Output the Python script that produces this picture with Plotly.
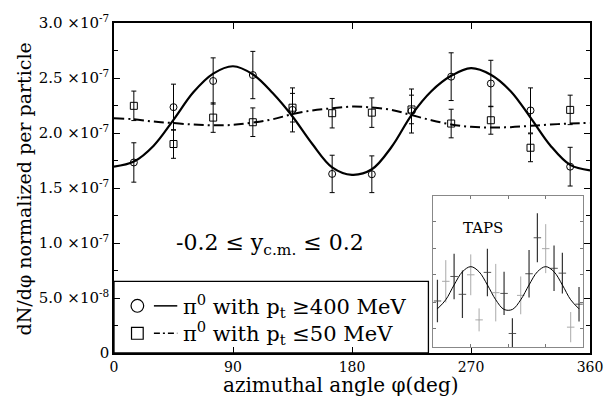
import plotly.graph_objects as go

# ---------------- data (units of 1e-7) ----------------
SCALE = 1e-7
phi_bins = [15, 45, 75, 105, 135, 165, 195, 225, 255, 285, 315, 345]
hi_pt = [1.732, 2.235, 2.473, 2.527, 2.21, 1.628, 1.625, 2.20, 2.512, 2.45, 2.205, 1.694]
hi_err = [0.179, 0.209, 0.21, 0.215, 0.2, 0.17, 0.167, 0.2, 0.217, 0.211, 0.205, 0.176]
lo_pt = [2.247, 1.90, 2.14, 2.098, 2.23, 2.18, 2.185, 2.214, 2.086, 2.116, 1.866, 2.21]
lo_err = [0.134, 0.13, 0.134, 0.13, 0.13, 0.134, 0.134, 0.13, 0.13, 0.127, 0.127, 0.134]

phi_fit = [0, 15, 30, 45, 60, 75, 90, 105, 120, 135, 150, 165, 180,
           195, 210, 225, 240, 255, 270, 285, 300, 315, 330, 345, 360]
fit_hi = [1.694, 1.74, 1.885, 2.12, 2.37, 2.54, 2.607, 2.533, 2.363, 2.15, 1.90, 1.688, 1.62,
          1.67, 1.875, 2.163, 2.38, 2.52, 2.59, 2.53, 2.38, 2.14, 1.887, 1.71, 1.66]
fit_lo = [2.134, 2.125, 2.104, 2.09, 2.077, 2.07, 2.074, 2.095, 2.125, 2.172, 2.205, 2.225, 2.24,
          2.232, 2.21, 2.163, 2.116, 2.078, 2.056, 2.05, 2.053, 2.065, 2.077, 2.086, 2.092]

y_tickvals = [0, 0.5, 1.0, 1.5, 2.0, 2.5, 3.0]
y_ticktext = ["0", "5.0 ×10<sup>-8</sup>", "1.0 ×10<sup>-7</sup>", "1.5 ×10<sup>-7</sup>",
              "2.0 ×10<sup>-7</sup>", "2.5 ×10<sup>-7</sup>", "3.0 ×10<sup>-7</sup>"]
x_tickvals = [0, 90, 180, 270, 360]

# inset (TAPS) data, arbitrary units
taps_phi_dark = [10, 50, 70, 130, 170, 190, 230, 250, 290, 310, 350]
taps_val_dark = [0.305, 0.467, 0.349, 0.494, 0.355, 0.09, 0.485, 0.723, 0.521, 0.489, 0.284]
taps_err_dark = [0.14, 0.15, 0.157, 0.157, 0.143, 0.10, 0.157, 0.162, 0.15, 0.135, 0.114]
taps_phi_light = [30, 90, 110, 150, 210, 270, 330]
taps_val_light = [0.435, 0.478, 0.18, 0.36, 0.342, 0.651, 0.132]
taps_err_light = [0.14, 0.135, 0.076, 0.19, 0.125, 0.162, 0.10]
taps_fit_phi = [10, 30, 50, 70, 90, 110, 130, 150, 170, 190, 210, 230, 250, 270, 290, 310, 330, 350]
taps_fit = [0.253, 0.313, 0.411, 0.498, 0.532, 0.498, 0.411, 0.313, 0.249,
            0.249, 0.313, 0.411, 0.498, 0.532, 0.498, 0.411, 0.313, 0.253]

# ---------------- layout geometry (pixels) ----------------
W, H = 615, 402
L, R, T, B = 114, 603, 17, 353
PW, PH = R - L, B - T


def px(x):
    return (x - L) / PW


def py(y):
    return (B - y) / PH


FONT = "DejaVu Serif"

fig = go.Figure()

fig.add_trace(go.Scatter(
    x=phi_fit, y=[v * SCALE for v in fit_hi], mode="lines",
    line=dict(color="black", width=2.2, shape="spline"), showlegend=False))
fig.add_trace(go.Scatter(
    x=phi_fit, y=[v * SCALE for v in fit_lo], mode="lines",
    line=dict(color="black", width=2, shape="spline", dash="10px,4px,2px,4px"),
    showlegend=False))
fig.add_trace(go.Scatter(
    x=phi_bins, y=[v * SCALE for v in hi_pt], mode="markers",
    marker=dict(symbol="circle-open", size=7, color="black", line=dict(width=1)),
    error_y=dict(type="data", array=[e * SCALE for e in hi_err], color="black",
                 thickness=1, width=2.5),
    showlegend=False))
fig.add_trace(go.Scatter(
    x=phi_bins, y=[v * SCALE for v in lo_pt], mode="markers",
    marker=dict(symbol="square-open", size=7, color="black", line=dict(width=1)),
    error_y=dict(type="data", array=[e * SCALE for e in lo_err], color="black",
                 thickness=1, width=2.5),
    showlegend=False))

# inset traces
fig.add_trace(go.Scatter(
    x=taps_phi_light, y=taps_val_light, mode="markers", xaxis="x2", yaxis="y2",
    marker=dict(size=1, color="#aaaaaa"),
    error_y=dict(type="data", array=taps_err_light, color="#aaaaaa", thickness=1, width=0),
    error_x=dict(type="constant", value=9, color="#aaaaaa", thickness=1, width=0),
    showlegend=False))
fig.add_trace(go.Scatter(
    x=taps_phi_dark, y=taps_val_dark, mode="markers", xaxis="x2", yaxis="y2",
    marker=dict(size=1, color="#333333"),
    error_y=dict(type="data", array=taps_err_dark, color="#333333", thickness=1.2, width=0),
    error_x=dict(type="constant", value=9, color="#555555", thickness=1, width=0),
    showlegend=False))
fig.add_trace(go.Scatter(
    x=taps_fit_phi, y=taps_fit, mode="lines", xaxis="x2", yaxis="y2",
    line=dict(color="black", width=1, shape="spline"), showlegend=False))

shapes = []
# legend box
shapes.append(dict(type="rect", xref="paper", yref="paper",
                   x0=px(114), x1=px(437), y0=py(353), y1=py(280),
                   line=dict(color="black", width=1.3), fillcolor="white", layer="below"))
# legend symbols
shapes.append(dict(type="circle", xref="paper", yref="paper",
                   x0=px(131.5), x1=px(144.5), y0=py(311.5), y1=py(298.5),
                   line=dict(color="black", width=1.2)))
shapes.append(dict(type="rect", xref="paper", yref="paper",
                   x0=px(132), x1=px(144), y0=py(339), y1=py(327),
                   line=dict(color="black", width=1.2)))
shapes.append(dict(type="line", xref="paper", yref="paper",
                   x0=px(155), x1=px(179), y0=py(305), y1=py(305),
                   line=dict(color="black", width=1.5)))
shapes.append(dict(type="line", xref="paper", yref="paper",
                   x0=px(155), x1=px(179), y0=py(333), y1=py(333),
                   line=dict(color="black", width=1.5, dash="6px,3px,2px,3px")))

annotations = [
    dict(text="π<sup>0</sup> with p<sub>t</sub> ≥400 MeV", xref="paper", yref="paper",
         x=px(183), y=py(305), xanchor="left", yanchor="middle", showarrow=False,
         font=dict(family=FONT, size=21, color="black")),
    dict(text="π<sup>0</sup> with p<sub>t</sub> ≤50 MeV", xref="paper", yref="paper",
         x=px(183), y=py(333), xanchor="left", yanchor="middle", showarrow=False,
         font=dict(family=FONT, size=21, color="black")),
    dict(text="-0.2 ≤ y<sub>c.m.</sub> ≤ 0.2", xref="paper", yref="paper",
         x=px(274), y=py(243), xanchor="center", yanchor="middle", showarrow=False,
         font=dict(family=FONT, size=22, color="black")),
    dict(text="TAPS", xref="paper", yref="paper",
         x=px(493), y=py(226), xanchor="center", yanchor="middle", showarrow=False,
         font=dict(family=FONT, size=15, color="black")),
    dict(text="dN/dφ normalized per particle", xref="paper", yref="paper",
         x=px(22), y=py(186), xanchor="center", yanchor="middle", showarrow=False,
         textangle=-90, font=dict(family=FONT, size=19, color="black")),
    dict(text="azimuthal angle φ(deg)", xref="paper", yref="paper",
         x=px(347), y=py(386), xanchor="center", yanchor="middle", showarrow=False,
         font=dict(family=FONT, size=20, color="black")),
]

fig.update_layout(
    width=W, height=H, autosize=False,
    margin=dict(l=L, r=W - R, t=T, b=H - B, pad=0),
    paper_bgcolor="white", plot_bgcolor="white",
    font=dict(family=FONT, size=15, color="black"),
    shapes=shapes, annotations=annotations,
    xaxis=dict(range=[0, 360], tickvals=x_tickvals, ticks="inside", ticklen=6,
               tickcolor="black", showline=True, linecolor="black", linewidth=1.5,
               mirror="ticks", showgrid=False, zeroline=False,
               ticklabeloverflow="allow",
               tickfont=dict(family=FONT, size=14)),
    yaxis=dict(range=[0, 3.0e-7], tickvals=[v * SCALE for v in y_tickvals],
               ticktext=y_ticktext, ticks="inside", ticklen=6, tickcolor="black",
               showline=True, linecolor="black", linewidth=1.5, mirror="ticks",
               showgrid=False, zeroline=False, tickfont=dict(family=FONT, size=15),
               ticklabeloverflow="allow",
               minor=dict(dtick=0.25e-7, ticks="inside", ticklen=4, tickcolor="black")),
    xaxis2=dict(domain=[px(442), px(596)], anchor="y2", range=[0, 360],
                tickvals=[90, 180, 270], ticks="inside", ticklen=3, tickcolor="#777777",
                showticklabels=False, showline=True, linecolor="#888888", linewidth=1,
                mirror="ticks", showgrid=False, zeroline=False),
    yaxis2=dict(domain=[py(347), py(193)], anchor="x2", range=[0, 1],
                tickvals=[0.123, 0.294, 0.48, 0.651, 0.83], ticks="inside", ticklen=3,
                tickcolor="#777777", showticklabels=False, showline=True,
                linecolor="#888888", linewidth=1, mirror="ticks", showgrid=False,
                zeroline=False),
)

fig.write_html("out.html")
